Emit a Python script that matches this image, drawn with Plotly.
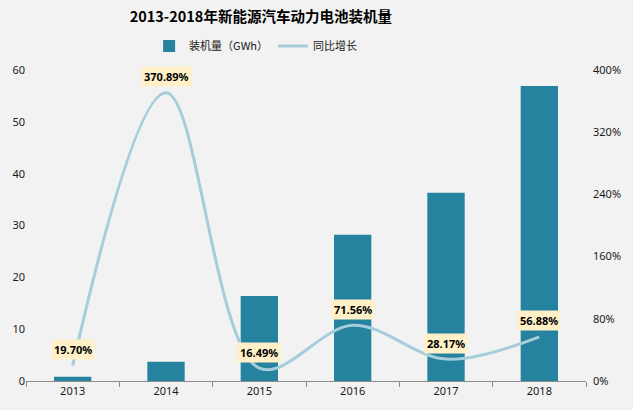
import plotly.graph_objects as go

years = ["2013", "2014", "2015", "2016", "2017", "2018"]
capacity = [0.8, 3.7, 16.4, 28.2, 36.3, 56.9]
growth = [19.70, 370.89, 16.49, 71.56, 28.17, 56.88]
growth_labels = ["19.70%", "370.89%", "16.49%", "71.56%", "28.17%", "56.88%"]
left_ticks = [0, 10, 20, 30, 40, 50, 60]
right_ticks = [0, 80, 160, 240, 320, 400]
right_tick_text = ["0%", "80%", "160%", "240%", "320%", "400%"]

font_main = "Noto Sans CJK SC, Noto Sans, sans-serif"
font_tick = "Noto Sans, DejaVu Sans, sans-serif"

fig = go.Figure()
fig.add_trace(go.Bar(
    x=years, y=capacity, name="装机量（GWh）",
    marker=dict(color="#2583A0", line=dict(width=0)),
    width=0.4, yaxis="y",
))
fig.add_trace(go.Scatter(
    x=years, y=growth, name="同比增长", mode="lines",
    line=dict(color="#A6CDDA", width=3, shape="spline", smoothing=1.0),
    yaxis="y2",
))

for i, (g, lab) in enumerate(zip(growth, growth_labels)):
    fig.add_annotation(
        x=i, xref="x", y=g, yref="y2", text="<b>" + lab + "</b>", showarrow=False,
        yshift=16, bgcolor="#FFF0C8", borderpad=2,
        font=dict(size=11, color="#000000", family=font_tick),
    )

fig.update_layout(
    width=633, height=410,
    paper_bgcolor="#F2F2F2", plot_bgcolor="#F2F2F2",
    margin=dict(l=25, r=43, t=70, b=29),
    title=dict(text="<b>2013-2018年新能源汽车动力电池装机量</b>", x=0.412, xanchor="center",
               y=0.958, yanchor="middle",
               font=dict(size=14.5, color="#000000", family=font_main)),
    legend=dict(orientation="h", x=0.41, xanchor="center", y=1.077, yanchor="middle",
                font=dict(size=11, color="#1a1a1a", family=font_main),
                bgcolor="rgba(0,0,0,0)", itemwidth=30),
    showlegend=True,
    xaxis=dict(type="category", range=[-0.5, 5.5], autorange=False, showgrid=False,
               showline=True, linecolor="#8C8C8C", linewidth=1,
               ticks="outside", tickson="boundaries", ticklen=5, tickcolor="#8C8C8C",
               tickfont=dict(size=11, color="#1a1a1a", family=font_tick)),
    yaxis=dict(range=[0, 60], tickmode="array", tickvals=left_ticks, showgrid=False,
               zeroline=False, showline=False,
               tickfont=dict(size=11, color="#1a1a1a", family=font_tick)),
    yaxis2=dict(range=[0, 400], tickmode="array", tickvals=right_ticks, ticktext=right_tick_text,
                overlaying="y", side="right", anchor="x", ticklabelstandoff=6,
                showgrid=False, zeroline=False, showline=False,
                tickfont=dict(size=11, color="#1a1a1a", family=font_tick)),
)

fig.write_html("out.html", config={"displayModeBar": False},
               post_script="document.body.style.margin='0';")
